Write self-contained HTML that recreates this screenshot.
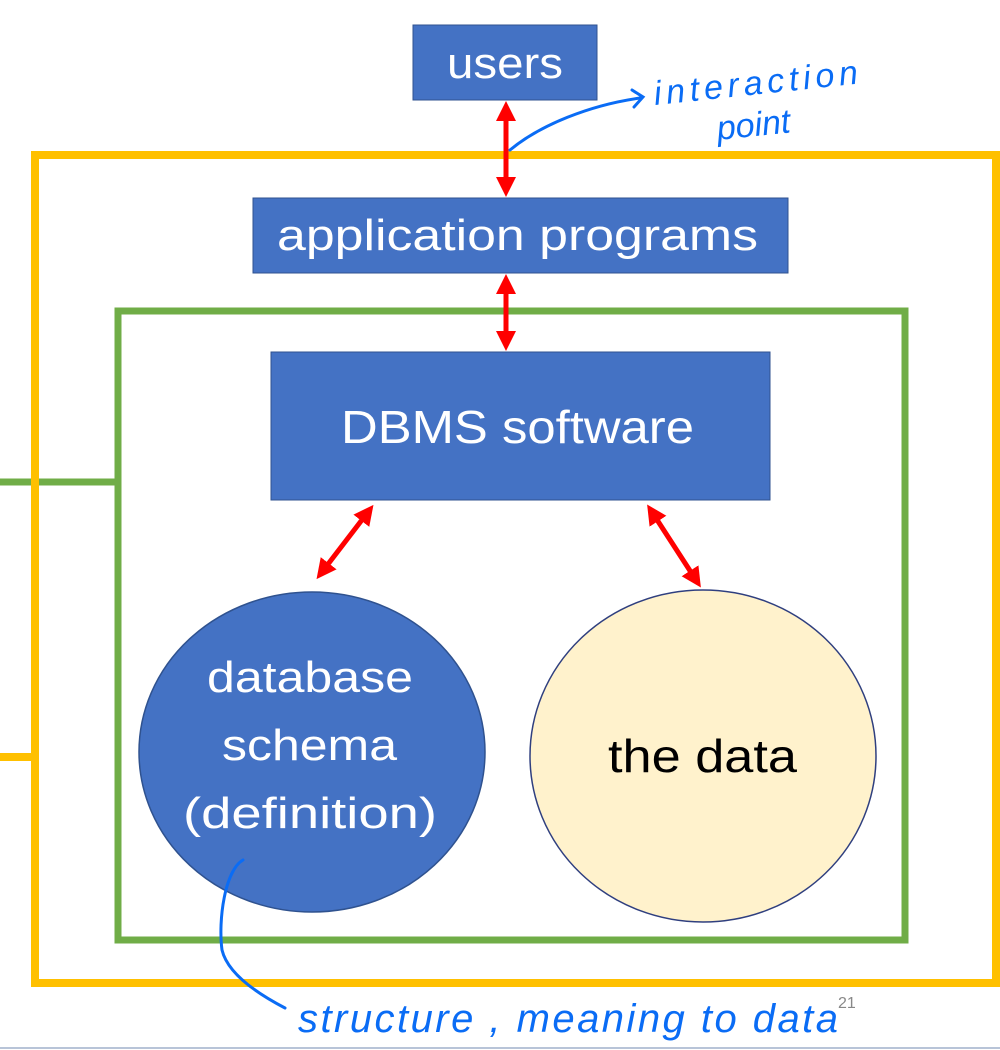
<!DOCTYPE html>
<html><head><meta charset="utf-8"><style>
html,body{margin:0;padding:0;background:#fff;}
svg{display:block;}
</style></head><body>
<svg width="1000" height="1050" viewBox="0 0 1000 1050" xmlns="http://www.w3.org/2000/svg" font-family="Liberation Sans, sans-serif">
<defs>
<marker id="ah" markerWidth="4" markerHeight="4" refX="2.2" refY="2" orient="auto-start-reverse" markerUnits="strokeWidth">
<path d="M0,0 L4,2 L0,4 z" fill="#FF0000"/>
</marker>
</defs>
<line x1="0" y1="482" x2="118" y2="482" stroke="#70AD47" stroke-width="7"/>
<line x1="0" y1="757" x2="35" y2="757" stroke="#FFC000" stroke-width="8"/>
<rect x="35" y="155" width="961" height="828" fill="none" stroke="#FFC000" stroke-width="8"/>
<rect x="118" y="311" width="787" height="629" fill="none" stroke="#70AD47" stroke-width="7"/>
<rect x="413" y="25" width="184" height="75" fill="#4472C4" stroke="#2F528F" stroke-width="1"/>
<text x="447" y="78" font-size="44" fill="#fff" textLength="116" lengthAdjust="spacingAndGlyphs">users</text>
<rect x="253" y="198" width="535" height="75" fill="#4472C4" stroke="#2F528F" stroke-width="1"/>
<text x="277" y="250" font-size="44" fill="#fff" textLength="481" lengthAdjust="spacingAndGlyphs">application programs</text>
<rect x="271" y="352" width="499" height="148" fill="#4472C4" stroke="#2F528F" stroke-width="1"/>
<text x="341" y="443" font-size="46" fill="#fff" textLength="353" lengthAdjust="spacingAndGlyphs">DBMS software</text>
<ellipse cx="312" cy="752" rx="173" ry="160" fill="#4472C4" stroke="#2F528F" stroke-width="1.5"/>
<text x="207" y="692" font-size="44" fill="#fff" textLength="206" lengthAdjust="spacingAndGlyphs">database</text>
<text x="222" y="760" font-size="44" fill="#fff" textLength="175" lengthAdjust="spacingAndGlyphs">schema</text>
<text x="183" y="828" font-size="44" fill="#fff" textLength="254" lengthAdjust="spacingAndGlyphs">(definition)</text>
<ellipse cx="703" cy="756" rx="173" ry="166" fill="#FFF2CC" stroke="#2F3F7F" stroke-width="1.5"/>
<text x="608" y="772" font-size="46" fill="#000" textLength="189" lengthAdjust="spacingAndGlyphs">the data</text>
<g stroke="#FF0000" stroke-width="5" marker-start="url(#ah)" marker-end="url(#ah)">
<line x1="506" y1="110" x2="506" y2="188"/>
<line x1="506" y1="283" x2="506" y2="342"/>
<line x1="368" y1="512" x2="322" y2="572"/>
<line x1="652" y1="512" x2="696" y2="580"/>
</g>
<g fill="none" stroke="#0A6CF5" stroke-width="3" stroke-linecap="round">
<path d="M510,150 C540,125 590,105 640,98"/>
<path d="M632,90 L643,97 L634,107"/>
<path d="M243,860 C225,870 218,920 222,950 C228,975 260,995 285,1008"/>
</g>
<text x="655" y="105" font-size="34" fill="#0A6CF5" font-style="italic" transform="rotate(-6 655 105)" textLength="205">interaction</text>
<text x="718" y="140" font-size="34" fill="#0A6CF5" font-style="italic" transform="rotate(-6 718 140)">point</text>
<text x="298" y="1032" font-size="40" fill="#0A6CF5" font-style="italic" textLength="540">structure , meaning to data</text>
<text x="838" y="1008" font-size="16" fill="#888">21</text>
<line x1="0" y1="1048" x2="1000" y2="1048" stroke="#b8c4d8" stroke-width="2"/>
</svg>
</body></html>
